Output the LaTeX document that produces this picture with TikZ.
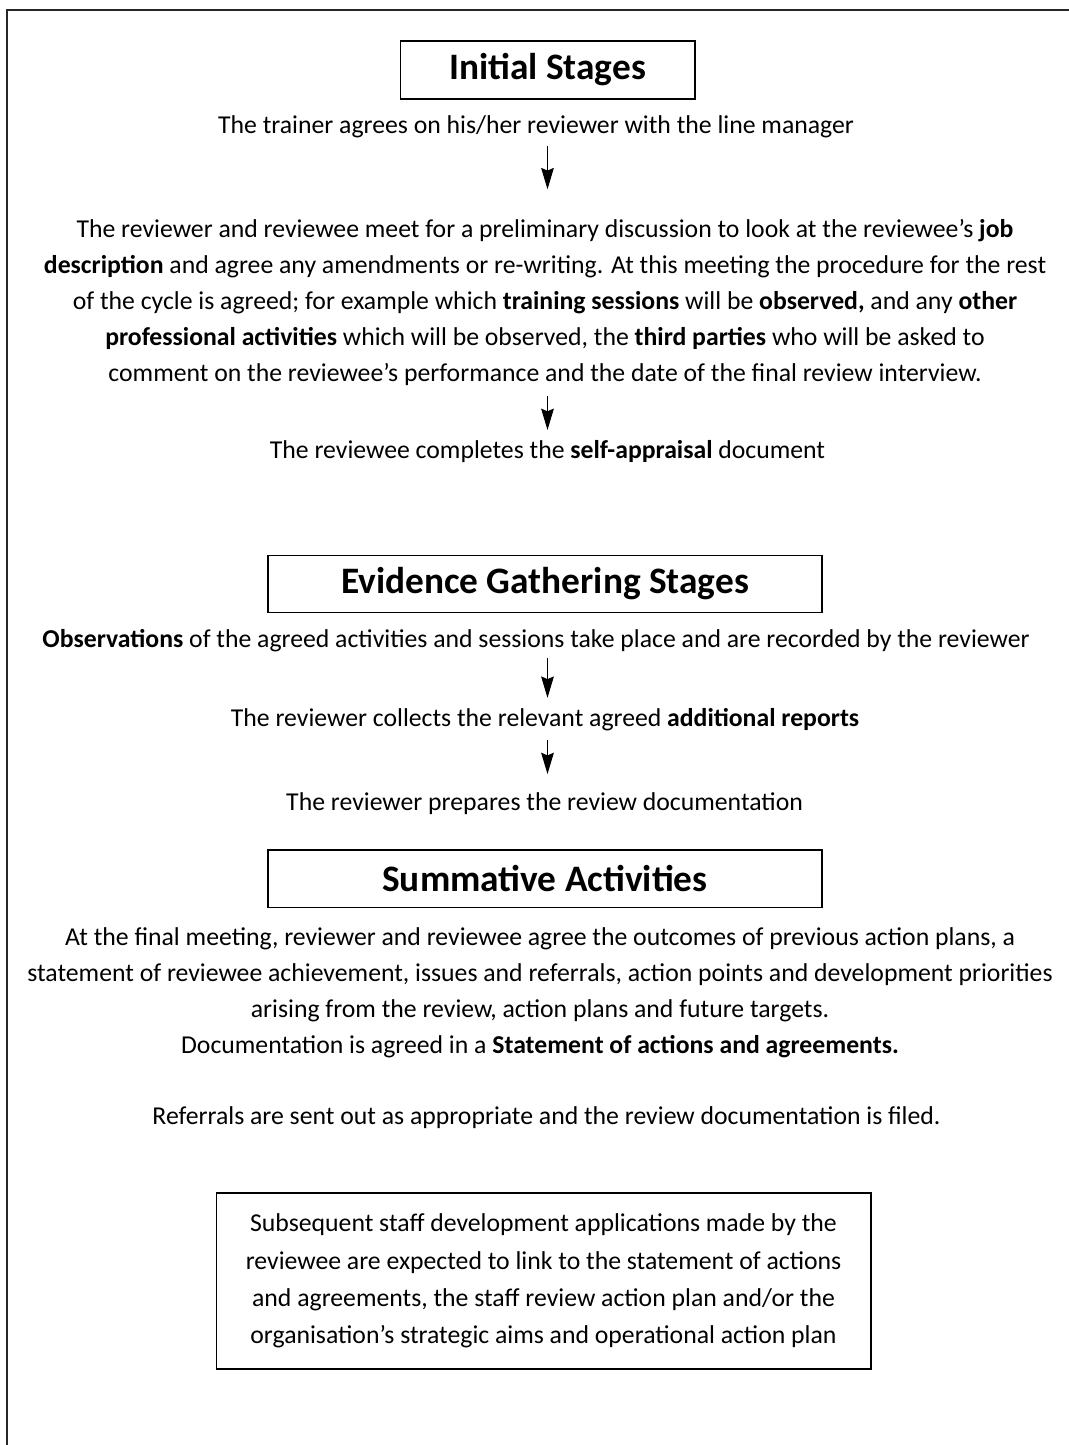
\documentclass[tikz,border=0pt]{standalone}
\usepackage{fontspec}
\setmainfont{Carlito}
\usetikzlibrary{arrows.meta}
\begin{document}
\begin{tikzpicture}[x=0.75pt,y=-0.75pt,
  body/.style={font=\fontsize{19.3}{27}\selectfont, align=center, inner sep=0pt},
  stagebox/.style={draw, line width=1pt, inner sep=0pt,
    font=\fontsize{28}{30}\selectfont\bfseries},
  flow/.style={-{Stealth[length=16pt,width=9.5pt,inset=2pt]}, line width=0.7pt}]
\useasboundingbox (0,0) rectangle (1069,1445);
% open frame: top and left edges only
\draw[line width=1.6pt, black!85] (1069,10) -- (7,10) -- (7,1445);

% ---- Initial stages
\node[stagebox, minimum width=221pt, minimum height=43.5pt] (b1) at (547.5,70) {Initial Stages};
\node[body] (t1) at (536,127) {The trainer agrees on his/her reviewer with the line manager};
\node[body] (p1) at (545,302) {The reviewer and reviewee meet for a preliminary discussion to look at the reviewee’s \textbf{job}\\
\textbf{description} and agree any amendments or re-writing. At this meeting the procedure for the rest\\
of the cycle is agreed; for example which \textbf{training sessions} will be \textbf{observed,} and any \textbf{other}\\
\textbf{professional activities} which will be observed, the \textbf{third parties} who will be asked to\\
comment on the reviewee’s performance and the date of the final review interview.};
\node[body] (t2) at (547.5,452) {The reviewee completes the \textbf{self-appraisal} document};

% ---- Evidence gathering stages
\node[stagebox, minimum width=415.5pt, minimum height=43pt] (b2) at (545,584) {Evidence Gathering Stages};
\node[body] (t3) at (536,641) {\textbf{Observations} of the agreed activities and sessions take place and are recorded by the reviewer};
\node[body] (t4) at (545,720) {The reviewer collects the relevant agreed \textbf{additional reports}};
\node[body] (t5) at (544.5,804) {The reviewer prepares the review documentation};

% ---- Summative activities
\node[stagebox, minimum width=415.5pt, minimum height=43pt] (b3) at (545,878.5) {Summative Activities};
\node[body] (p2) at (540,993) {At the final meeting, reviewer and reviewee agree the outcomes of previous action plans, a\\
statement of reviewee achievement, issues and referrals, action points and development priorities\\
arising from the review, action plans and future targets.\\
Documentation is agreed in a \textbf{Statement of actions and agreements.}};
\node[body] (t6) at (546.5,1118) {Referrals are sent out as appropriate and the review documentation is filed.};

\node[draw, line width=1pt, body, minimum width=491pt, minimum height=132pt,
  font=\fontsize{19.3}{28}\selectfont] (b4) at (543.5,1281) {Subsequent staff development applications made by the\\
reviewee are expected to link to the statement of actions\\
and agreements, the staff review action plan and/or the\\
organisation’s strategic aims and operational action plan};

% ---- connectors
\draw[flow, shorten <=6pt, shorten >=22pt] (t1.south -| b1) -- (p1.north -| b1);
\draw[flow, shorten <=8pt, shorten >=8pt] (p1.south -| b1) -- (t2.north -| b1);
\draw[flow, shorten <=4pt, shorten >=8pt] (t3.south -| b1) -- (t4.north -| b1);
\draw[flow, shorten <=6pt, shorten >=14pt] (t4.south -| b1) -- (t5.north -| b1);
\end{tikzpicture}
\end{document}
